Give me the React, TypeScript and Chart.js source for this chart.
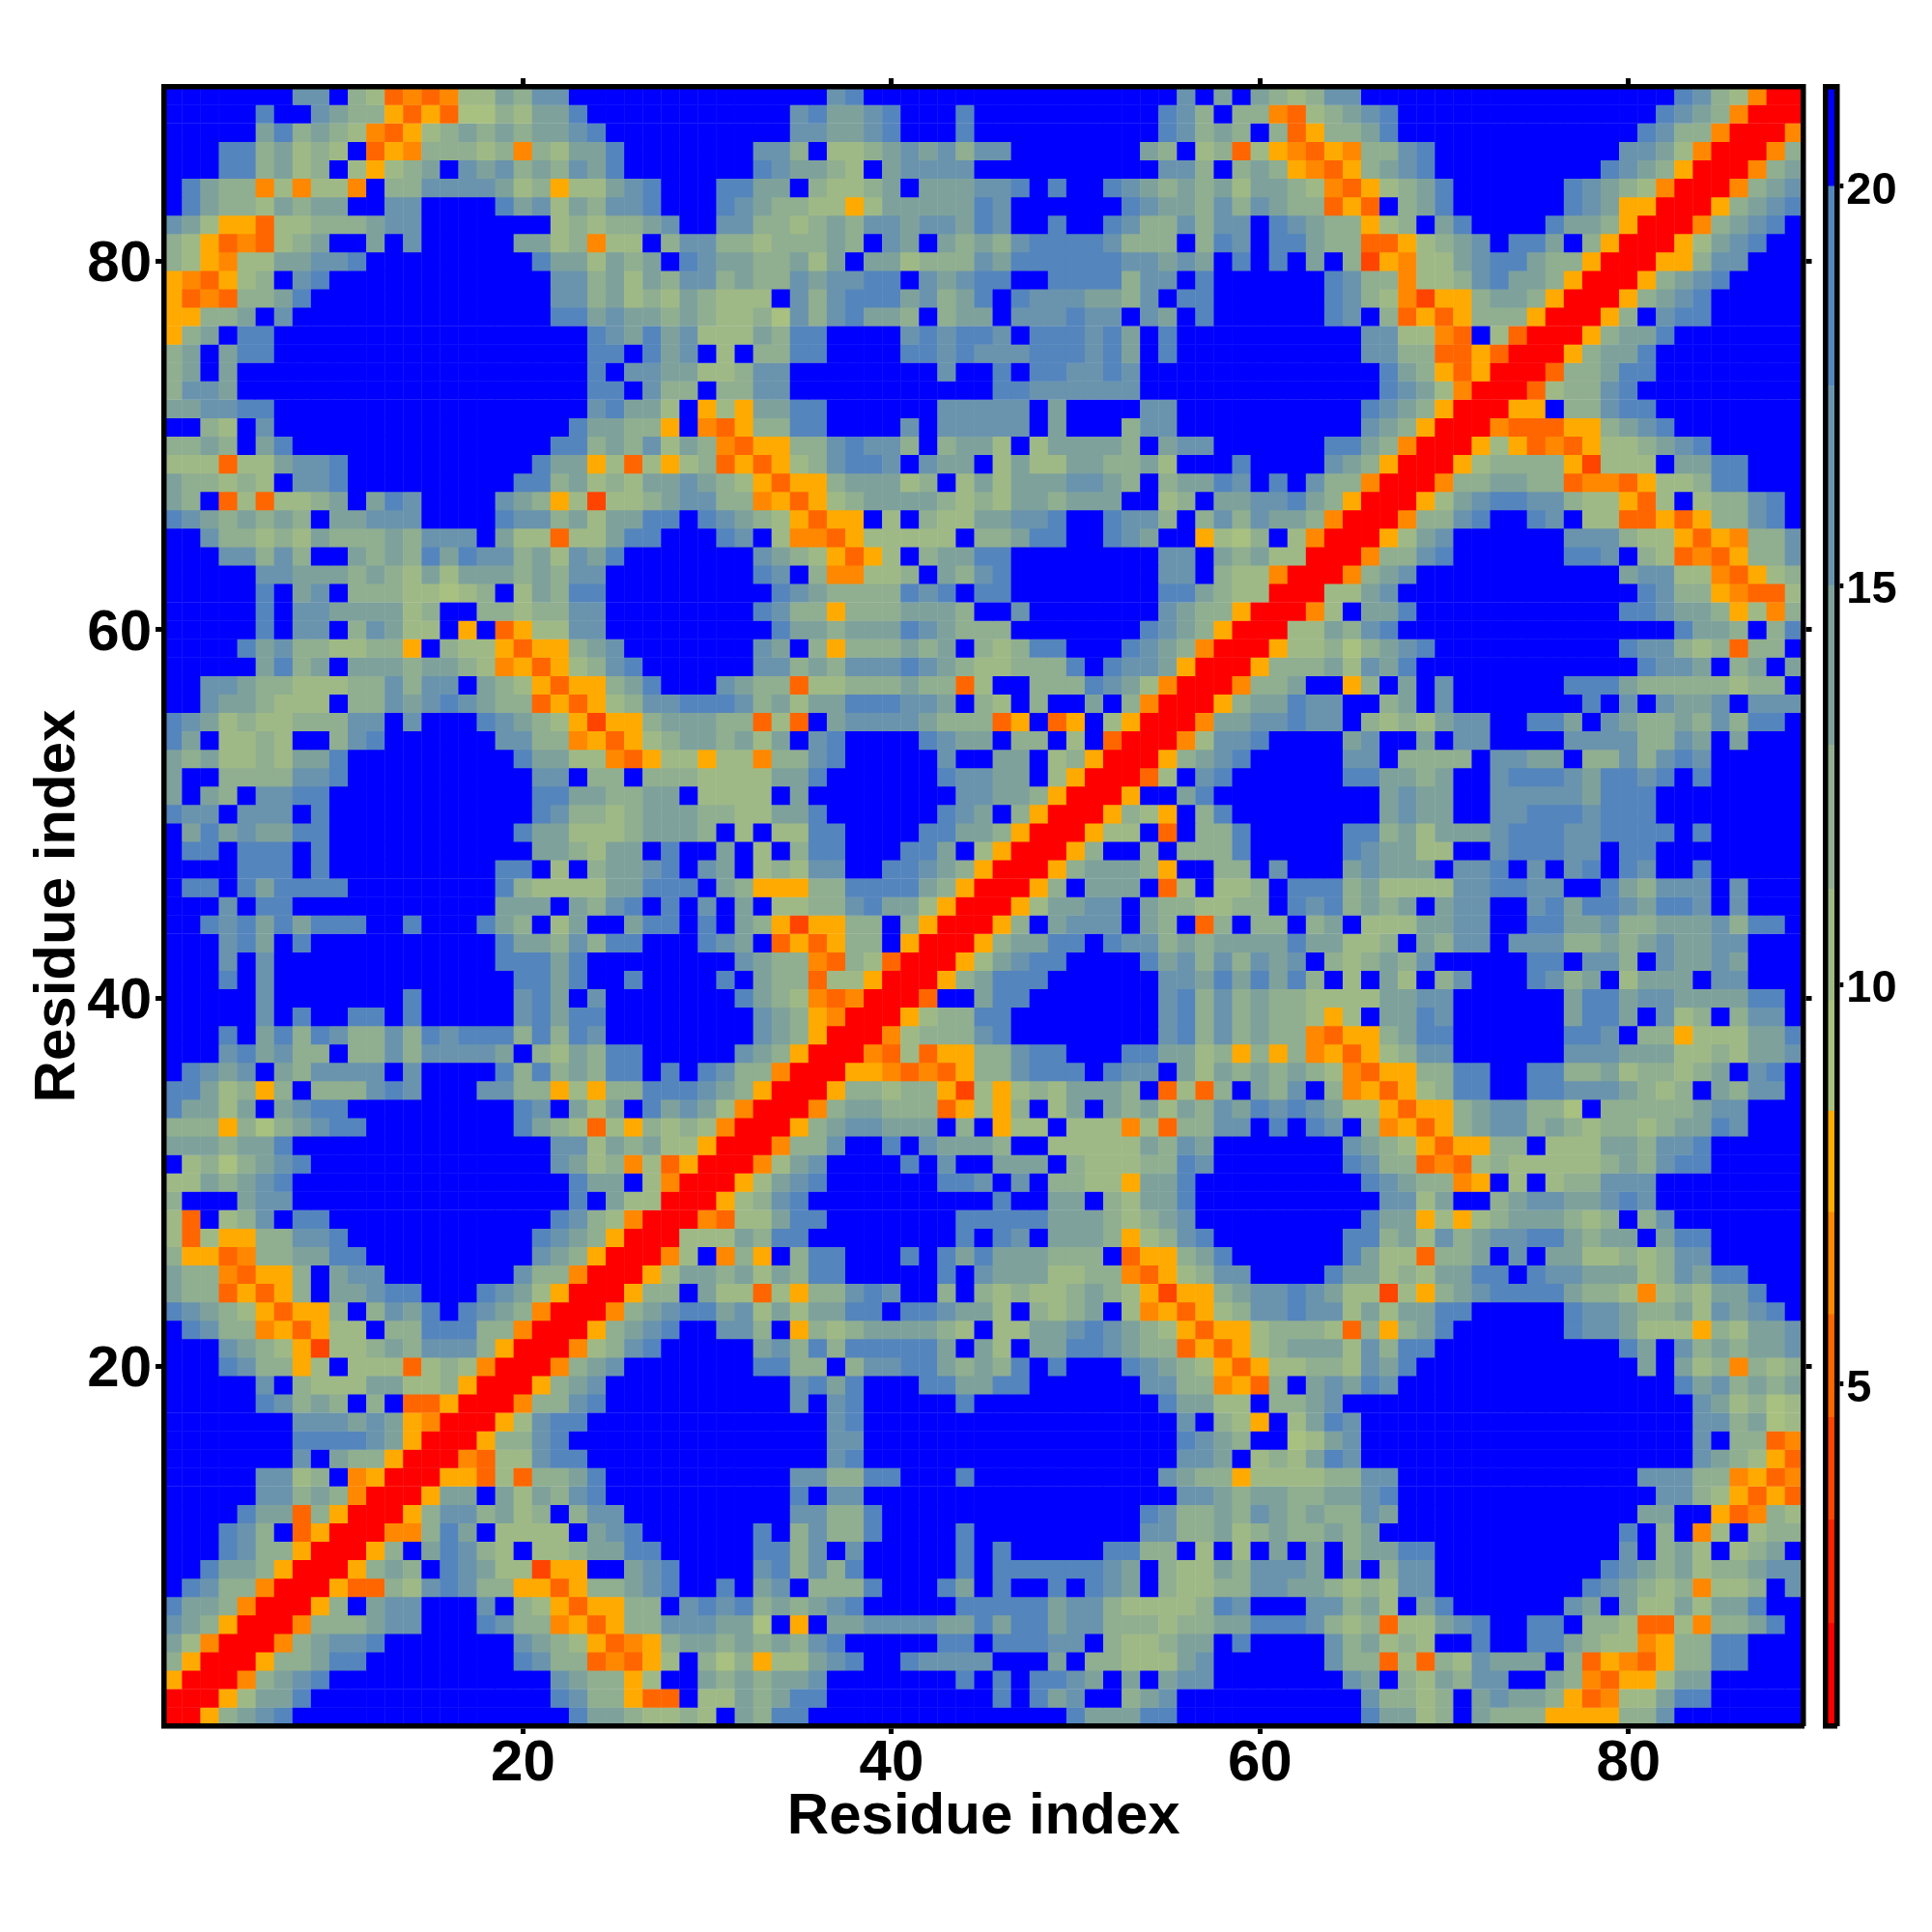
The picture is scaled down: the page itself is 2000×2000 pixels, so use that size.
import React, { useEffect, useRef } from "react";
import { Chart, registerables } from "chart.js";

Chart.register(...registerables);

// Residue-pair distance classes, one string per row, from residue 89 down to residue 1.
// Rows 89-60 were read across the whole width; lower rows up to the diagonal (the map is symmetric).
const distanceRows: string[] = [
  "BBBBBBBbbBdeQPQPeecdbbBBBBBBBB" + "BBBBBBba" + "BBBBBBBBBBBBBBBBB" + "bBcBc" + "dedbb" + "BBBBBBBBBBBBBBBBB" + "abdePRR",
  "BBBBBaBBbcddOQOQffdeccaBBBBBBB" + "BBBBbaccba" + "BBBa" + "BBBBBBBBBB" + "abdBdd" + "PQedcba" + "BBBBBBBBBBBBBB" + "abcdPRRR",
  "BBBBBcadcdePQOedcdcdccbaBBBBBB" + "BBBBbbccba" + "BBBa" + "BBBBBBBBBB" + "abdcdB" + "dQOddca" + "BBBBBBBBBBBBB" + "abddPRRRP",
  "BBBaadcedeBQOPdddedPdeccaBBBBB" + "BBbbdBeedcbcbdbb" + "BBBBBBB" + "cdBedQe" + "OPQOPddba" + "BBBBBBBBBB" + "bbcePRRRPd",
  "BBBaadcedBeOedcBbcbdcdbcaBBBBB" + "BBabccdeBcbbbb" + "BBBBBBBBBB" + "bbdBdc" + "dOPQOdcba" + "BBBBBBBBB" + "abcdORRRPdc",
  "BacddPePeePBddbbbbcedOeecbaBBB" + "aaccBdeedcBccc" + "bbaBaBBab" + "cdcdcec" + "cdePQOedca" + "BBBBBB" + "abcdePRRRPdcb",
  "BacddecdccBBbbBBBBacbecdbbaBBB" + "abcddeeOeccccc" + "abBBBBBB" + "abccdbdb" + "cddQOQBdca" + "BBBBBB" + "abcOORRROdcba",
  "bceOOQeedddcbbBBBBBBBededdcbBB" + "bbddedcdbbcbbcab" + "BBaBBab" + "ddbdbbB" + "abcddOedBca" + "BBBB" + "accdORRRPdcbaB",
  "deOQPQedcBBcBbBBBBBccedPeeBdbb" + "ddedddcdBbcBcdcdbaaaabdddBdabB" + "aacddQQOedcbBaacBdORRROecbaBB",
  "deOPeeccbbaBBBBBBBBBaccecdcBab" + "ccddcecBccedddbc" + "aaaaaa" + "bbcbcBaB" + "aBcBdSOPeecbaacddORRROOdbbBBB",
  "OPQOedBbaBBBBBBBBBBBBbbdcecdbb" + "dcddbcbbaaBbcbaa" + "BBaaaa" + "dbbBaBBB" + "BBBabddPeedbaccdORRROdcbaBBBB",
  "OQPQddcaBBBBBBBBBBBBBbbdcedecd" + "eeeBbdbaaacbdcaB" + "abbbcc" + "dbBaaBBB" + "BBBabdePSOOdccdORRROdcbaBBBBB",
  "OOddcBb" + "BBBBBBBBBBBBBB" + "aacbccdcd" + "eedfbdbaccdBdccBbbbabbBbcBaBBB" + "BBBabBdQOQOdddORRROdBbaaBBBBB",
  "OdcBaa" + "BBBBBBBBBBBBBBBBB" + "abcacbe" + "eecdaaBBBBbabaabBaaabacBaBBBBB" + "BBBBBbbeePQBeQRRROdccaBBBBBBB",
  "dcBcaa" + "BBBBBBBBBBBBBBBBB" + "aaBacbB" + "eBddaaBBBBaababbbaaabacBaBBBBB" + "BBBBBbbddQQOQRRROdccaBBBBBBBB",
  "dcBc" + "BBBBBBBBBBBBBBBBBBB" + "aBbbcce" + "edbb" + "BBBBBBBB" + "bBBaBaabbab" + "BBBBBBB" + "BBBBBBacdOQORRRQddcaaBBBBBBBB",
  "dbbc" + "BBBBBBBBBBBBBBBBBBB" + "aaBbddB" + "ddbb" + "BBBBBBBBBBB" + "aabbbbbb" + "BBBBBBB" + "BBBBBBabcePRRRQeddbaBBBBBBBBB",
  "ccbbaa" + "BBBBBBBBBBBBBBBBB" + "bacceBO" + "eOccaa" + "BBBBBB" + "bbbbbBcBBBBbbBBBBB" + "BBBBBabcdORRROOBddbaaBBBBBBBB",
  "BBdeBb" + "BBBBBBBBBBBBBBBB" + "accddOBP" + "QOddaa" + "BBBBbBbbbbbBcBBBdbbBBBBB" + "BBBBBbcdORRRPQQQOOdcbaBBBBBBB",
  "ddcdBca" + "BBBBBBBBBBBBBB" + "aadcdbecd" + "PQOOddbabbdBdcceBeccccdBcbbBBB" + "BBBaacdPRRROeOQPQOeedcbaBBBBB",
  "eeeQeecbba" + "BBBBBBBBBB" + "accOeQeOed" + "QOQOedbaabBbccBeceeccddceBBBaB" + "BBBbcdORRROeddddOSeeeBccaaBBB",
  "cddedeBbba" + "BBBBBBBBB" + "aadcedeccbc" + "deOQOOdcccedBececccbbcdBdccabB" + "aBbddPRRRPddccddQPPQOeedaaBBB",
  "cdBQeQeedcBcabBBBBbcdOeSeedcbb" + "ddPOQOedccccdedeccdcccBBedBccb" + "bacdORRROecbaabbdeeOQeBeddbaB",
  "abcdcdcdBccbbbBBBBabbdceccaaBa" + "bcdeOQOOBeBdeeccbbaBBabbdBdbdb" + "ccdPRRRPddbaBBabBeeQQOQOddbaB",
  "BBbddedecdddcdbbbBceeQeecaaBBB" + "abBePPQOeeeeeBddcaaBBabcBBOefd" + "BePRRROecbBBBBBBbbbdeeOQOPddb",
  "BBBbbdbdBBcdcdacabbdcebcaBBBBB" + "BBbcdeOQOeBdccaa" + "BBBBBBBB" + "bbBcdc" + "eeRRRPddbaBBBBBBaabBdeQPQOddb",
  "BBBBBbbcccdcdececccdcdbbBBBBBB" + "BBabBdPPeedBcdba" + "BBBBBBBB" + "bbBdee" + "PRRRPdcbBBBBBBBBBBBcbbeePQOed",
  "BBBBBaBcbBdddeefedBecdaaBBBBBB" + "BBBabcddddabaBaa" + "BBBBBBBB" + "aacdee" + "RRReecbBBBBBBBBBBBBBabddOPQQe",
  "BBBBBaBbbccccedBBddeddbbBBBBBB" + "BBabddOdddcccdBBb" + "BBBBBBB" + "bcddOR" + "RRPeBccaBBBBBBBBBBBaabccdOePd",
  "BBBBBaBbbBdbceeBOBQOeebbBBBBBB" + "BBBaccdcccabcddd" + "BBBBBBB" + "abcdORR" + "ReecdbaBBBBBBBBBBBBBBBaccdBda",
  "BBBBacbddeeddOBdeeOQOOdcbBBBBB" + "BBbcBdOdddcdcBdedaaBBBabcdPRR",
  "BBBBBcadcBcccdccdePOQOedbaBBBB" + "BBbbdcdbbbabcdeedddaBabbcORR",
  "BBbbcddeeeddbdbbBcdeOQOOdcaBBB" + "bcddQeedddcddQeBBdddabcePRR",
  "BBbccdeeeBddbcbabcddQOQOedbbaa" + "abdceccaaabbcBdeBdBBcBdPRR",
  "abcedeedddbbBbBBBabcdeOSOOdccc" + "ddQeQBcbbbbcdddQOBQOBeORR",
  "acBeedeBBdbaBBBBBBbbddPOQOedcc" + "dcecBbaBBBBabccBddBeBQRR",
  "cdceedecca" + "BBBBBBBBB" + "acceePQOeeO" + "eePddbaBBBBBbBBccBedORR",
  "cBBddddbba" + "BBBBBBBBBB" + "bbBddBddde" + "eeeccaBBBBBBabbccBeORR",
  "cBcdBbbaa" + "BBBBBBBBBBB" + "aaccddccBe" + "eeeBcBBBBBBBBbbccdORR",
  "abbBbbbBa" + "BBBBBBBBBBB" + "abddedcccd" + "deeccaBBBBBBabcBdORR",
  "Bcacbccaa" + "BBBBBBBBBB" + "acceeedcccd" + "BeBeeaaBBBBaaccdORR",
  "BaaBaaaBa" + "BBBBBBBBBBB" + "ccdeccBaBB" + "cBeBdaaBBBaacBeORR",
  "BBBBaaaBa" + "BBBBBBBBB" + "aaBeBdccbaBb" + "cBedebbBBaabcdORR",
  "BaaBacaaaa" + "BBBBBBBB" + "adeeeeccaaaB" + "cdOOOddaaaacdORR",
  "BBBbBaa" + "BBBBBBBBBBB" + "cccBcdbaBaBb" + "BcBeeddbacceORR",
  "BBabacacaaaBBaBBBacdBecBBcaaBa" + "BcdOSOOddBdORR",
  "BBBbacBa" + "BBBBBBBBBB" + "accdbdaaBBBa" + "bcBQOQOddBORR",
  "BBBbBb" + "BBBBBBBBBBBB" + "aaacaBBBBBBB" + "BbcddPQdeQRR",
  "BBBaBb" + "BBBBBBBBBBBBB" + "aacaBBaBBBB" + "aBcddQeeORR",
  "BBBBBbBBBBBBBaBBBBBbacBbBBBBBB" + "BacdePQPRR",
  "BBBBBbBaBBaaBaBBBBBbacaaBBBBBB" + "BBbcdOPRR",
  "BBBaBcadabddbdabaaadadabBBBBBB" + "BBbcdORR",
  "BBBbacbddBddbdbbbbcBdecdaaBBBB" + "BbcdORR",
  "BabcbBcdbbbbBbBBBBadadcdaaBaBa" + "bddPRR",
  "aacedOdBdddbabBBBbbddOeOddaaab" + "cdORR",
  "accecBcbaa" + "BBBBBBBBB" + "abBcecBacbc" + "ePRR",
  "dddOdfdcbaa" + "BBBBBBBB" + "acdeQeOdede" + "PRR",
  "cccdcca" + "BBBBBBBBBBBBBB" + "bbecdceeO" + "RR",
  "Bedfdcba" + "BBBBBBBBBBBBB" + "bcedPeQOR" + "R",
  "eecdcba" + "BBBBBBBBBBBBBBB" + "accBePRR",
  "dBBBcbb" + "BBBBBBBBBBBBBBB" + "aBceeRR",
  "eQBedbBaa" + "BBBBBBBBBBBB" + "abdePRR",
  "eQeOOddbba" + "BBBBBBBBBB" + "abcdORR",
  "dOOQPddccaa" + "BBBBBBBBB" + "bcdORR",
  "cddPQOOdBcbb" + "BBBBBBB" + "bddPRR",
  "cddQOQOdBccbaaBBBabceORR",
  "abcdeOQOOdBdbcaBabcdPRR",
  "BabddPOQOeeBddaaaddPRR",
  "BBBbcdeOSeedcdbbbdORR",
  "BBBabddOeBeeeQedePRR",
  "BBBBBbBdeeecceedORR",
  "BBBBBabdcdBdBQQORR",
  "BBBBBBBbbbcbcOPRR",
  "BBBBBBBaaaabcORR",
  "BBBBBBBbBcddORR",
  "BBBBBbbedBPORR",
  "BBBBBbbdcdPRR",
  "BBBBaccQdORR",
  "BBBabdBQORR",
  "BBBabddORR",
  "BBaccdORR",
  "BabddPRR",
  "accdPRR",
  "bcdORR",
  "cePRR",
  "dORR",
  "ORR",
  "RR",
  "R",
];

const residueCount = 89;
const axisTicks = [20, 40, 60, 80];
const colorbarTicks = [5, 10, 15, 20];

// Colour classes: code, lower and upper distance of the band, colour.
const bandCodes = ["R", "T", "S", "Q", "P", "O", "f", "e", "d", "c", "b", "a", "B"];
const bandEdges = [0.72, 2.0, 3.3, 4.58, 5.87, 7.15, 8.42, 9.8, 11.2, 13.0, 15.0, 17.5, 20.0, 21.25];
const bandColors = ["#ff0000", "#ff2200", "#ff4400", "#ff6600", "#ff8800", "#ffaa00", "#a8c080", "#9fb986", "#90ae90", "#7ea29b", "#6a94ad", "#5585bd", "#0000ff"];

function classAt(x: number, y: number): string {
  return distanceRows[residueCount - y][x - 1] ?? distanceRows[residueCount - x][y - 1];
}

const FONT = "'Liberation Sans', Arial, sans-serif";
const black = "#000000";

const tickGrid = { drawOnChartArea: false, drawTicks: true, tickLength: 8.5, tickWidth: 5, tickColor: black };
const frame = { display: true, width: 5.5, color: black, z: 1 };
const setTicks = (values: number[]) => (scale: any) => {
  scale.ticks = values.map((value) => ({ value }));
};

export default function App() {
  const mapRef = useRef<HTMLCanvasElement>(null);
  const barRef = useRef<HTMLCanvasElement>(null);

  useEffect(() => {
    const points: { x: number; y: number }[] = [];
    const colors: string[] = [];
    for (let y = 1; y <= residueCount; y++) {
      for (let x = 1; x <= residueCount; x++) {
        points.push({ x, y });
        colors.push(bandColors[bandCodes.indexOf(classAt(x, y))]);
      }
    }

    const fixed = (w: number | null, h: number | null) => (scale: any) => {
      if (w !== null) scale.width = w;
      if (h !== null) scale.height = h;
    };

    const map = new Chart(mapRef.current!, {
      type: "scatter",
      data: {
        datasets: [
          {
            data: points,
            pointStyle: "rect",
            pointRadius: 13.8,
            pointHoverRadius: 13.8,
            pointBorderWidth: 0,
            backgroundColor: colors,
            pointBackgroundColor: colors,
          },
        ],
      },
      options: {
        responsive: false,
        animation: false,
        devicePixelRatio: 1,
        layout: { padding: 0 },
        plugins: { legend: { display: false }, tooltip: { enabled: false } },
        scales: {
          x: {
            type: "linear",
            position: "bottom",
            min: 0.5,
            max: 89.5,
            afterBuildTicks: setTicks(axisTicks),
            afterFit: fixed(null, 213.5),
            grid: tickGrid,
            border: frame,
            ticks: {
              autoSkip: false,
              maxRotation: 0,
              padding: -5,
              color: black,
              font: { family: FONT, size: 60, weight: "bold" },
              callback: (v: any) => String(v),
            },
            title: {
              display: true,
              text: "Residue index",
              color: black,
              font: { family: FONT, size: 60, weight: "bold" },
              padding: { top: 0, bottom: 83 },
            },
          },
          x2: {
            type: "linear",
            axis: "x",
            position: "top",
            min: 0.5,
            max: 89.5,
            afterBuildTicks: setTicks(axisTicks),
            afterFit: fixed(null, 89.5),
            grid: tickGrid,
            border: frame,
            ticks: { display: false },
          },
          y: {
            type: "linear",
            position: "left",
            min: 0.5,
            max: 89.5,
            afterBuildTicks: setTicks(axisTicks),
            afterFit: fixed(169.5, null),
            grid: tickGrid,
            border: frame,
            ticks: {
              autoSkip: false,
              padding: 4,
              labelOffset: 4,
              color: black,
              font: { family: FONT, size: 60, weight: "bold" },
              callback: (v: any) => String(v),
            },
            title: {
              display: true,
              text: "Residue index",
              color: black,
              font: { family: FONT, size: 60, weight: "bold" },
              padding: { top: 24, bottom: 0 },
            },
          },
          y2: {
            type: "linear",
            axis: "y",
            position: "right",
            min: 0.5,
            max: 89.5,
            afterBuildTicks: setTicks(axisTicks),
            afterFit: fixed(133, null),
            grid: tickGrid,
            border: frame,
            ticks: { display: false },
          },
        },
      } as any,
    });

    const bar = new Chart(barRef.current!, {
      type: "bar",
      data: {
        labels: ["distance"],
        datasets: bandColors.map((color, i) => ({
          data: [[bandEdges[i], bandEdges[i + 1]]],
          backgroundColor: color,
          barPercentage: 1,
          categoryPercentage: 1,
          grouped: false,
          borderWidth: 0,
        })),
      } as any,
      options: {
        responsive: false,
        animation: false,
        devicePixelRatio: 1,
        layout: { padding: { left: 1889.3, top: 0, right: 0, bottom: 0 } },
        plugins: { legend: { display: false }, tooltip: { enabled: false } },
        scales: {
          x: {
            type: "category",
            position: "bottom",
            afterFit: fixed(null, 213.5),
            grid: { display: false },
            border: frame,
            ticks: { display: false },
          },
          x2: {
            type: "category",
            axis: "x",
            position: "top",
            labels: ["distance"],
            afterFit: fixed(null, 89.5),
            grid: { display: false },
            border: frame,
            ticks: { display: false },
          },
          y: {
            type: "linear",
            position: "right",
            min: 0.72,
            max: 21.25,
            afterBuildTicks: setTicks(colorbarTicks),
            afterFit: fixed(98.7, null),
            grid: { ...tickGrid, tickLength: 7 },
            border: frame,
            ticks: {
              autoSkip: false,
              padding: 3,
              labelOffset: 5,
              color: black,
              font: { family: FONT, size: 47, weight: "bold" },
              callback: (v: any) => String(v),
            },
          },
          y3: {
            type: "linear",
            axis: "y",
            position: "left",
            min: 0.72,
            max: 21.25,
            afterFit: fixed(0, null),
            grid: { display: false },
            border: frame,
            ticks: { display: false },
          },
        },
      } as any,
    });

    return () => {
      map.destroy();
      bar.destroy();
    };
  }, []);

  const layer: React.CSSProperties = { position: "absolute", left: 0, top: 0, display: "block" };
  return (
    <div style={{ position: "absolute", left: 0, top: 0, width: 2000, height: 2000, background: "#ffffff" }}>
      <canvas ref={mapRef} width={2000} height={2000} style={layer} />
      <canvas ref={barRef} width={2000} height={2000} style={layer} />
    </div>
  );
}
